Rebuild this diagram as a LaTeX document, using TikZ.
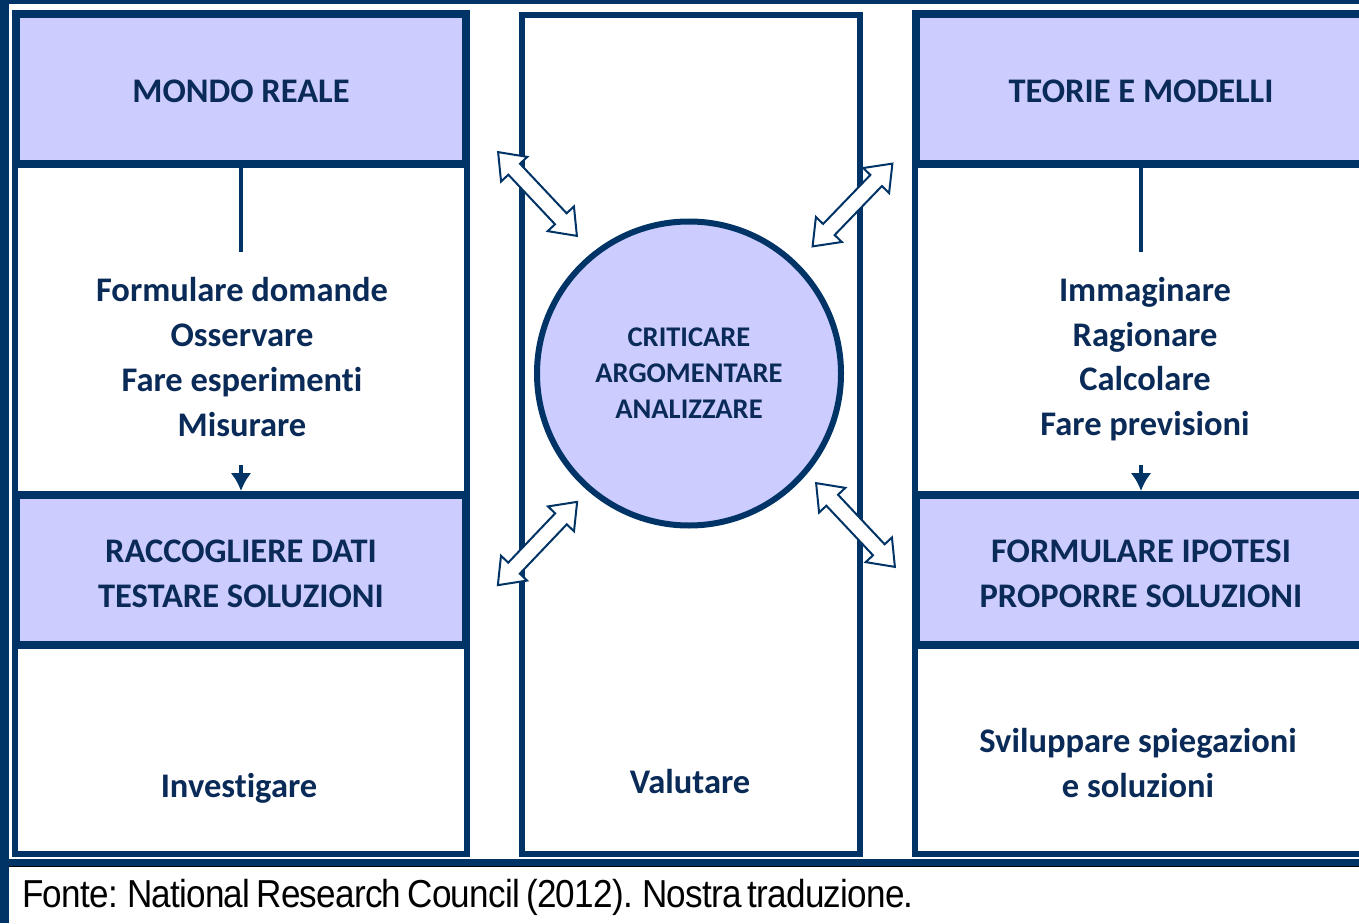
\documentclass[tikz,border=0pt]{standalone}
\usepackage{fontspec}
\setmainfont{Carlito}[Ligatures=NoCommon]
\newfontfamily\notefont[FakeStretch=0.9, LetterSpace=-2, WordSpace=0.7]{Liberation Sans}
\usetikzlibrary{positioning,arrows.meta,shapes.geometric,shapes.arrows}
\definecolor{navy}{RGB}{0,51,102}
\definecolor{inknavy}{RGB}{10,42,88}
\definecolor{lavender}{RGB}{204,204,255}
\tikzset{
  column/.style={draw=navy, line width=6pt, fill=white, minimum width=452pt, minimum height=840pt, inner sep=0pt},
  headbox/.style={draw=navy, line width=8pt, fill=lavender, minimum width=450pt, minimum height=150pt, inner sep=0pt},
  headtext/.style={align=center, inner sep=0pt, text=inknavy, font=\bfseries\fontsize{34.5}{45}\selectfont},
  listtext/.style={align=center, inner sep=0pt, text=inknavy, font=\bfseries\fontsize{34.5}{44.7}\selectfont},
  hub/.style={circle, draw=navy, line width=6pt, fill=lavender, minimum size=304pt, inner sep=0pt, align=center, text=inknavy, font=\bfseries\fontsize{28.5}{36}\selectfont},
  dblarrow/.style={double arrow, draw=navy, fill=white, line width=2pt, minimum height=115pt, minimum width=0pt, inner xsep=0pt, inner ysep=7pt, double arrow head extend=10pt, double arrow tip angle=75, sloped},
  stem/.style={navy, line width=4pt},
  stemarrow/.style={navy, line width=4pt, -{Latex[length=18pt,width=21pt]}}
}

\begin{document}
\begin{tikzpicture}[x=1pt, y=-1pt]
  \useasboundingbox (0,0) rectangle (1359,923);
  \clip (0,0) rectangle (1359,923);
  % slide frame and source strip
  \fill[navy] (0,0) rectangle (1359,4);
  \fill[navy] (0,0) rectangle (9,923);
  \fill[navy] (9,859) rectangle (1359,866);
  \draw[black, line width=1.5pt] (9,866.5) -- (1359,866.5);

  % the three columns
  \node[column] (left) at (241,434) {};
  \node[column, minimum width=338pt, minimum height=839pt] (mid) at (691,434.5) {};
  \node[column] (right) at (1141,434) {};

  % headers
  \node[headbox] (realhead) at (241,89) {};
  \node[headbox] (datahead) at (241,570) {};
  \node[headbox] (theoryhead) at (1141,89) {};
  \node[headbox] (hypohead) at (1141,570) {};
  \node[headtext] (realname) at ([yshift=-2pt]realhead.center) {MONDO REALE};
  \node[headtext] (dataname) at ([yshift=-4pt]datahead.center) {RACCOGLIERE DATI\\TESTARE SOLUZIONI};
  \node[headtext] (theoryname) at ([yshift=-2pt]theoryhead.center) {TEORIE E MODELLI};
  \node[headtext] (hyponame) at ([yshift=-4pt]hypohead.center) {FORMULARE IPOTESI\\PROPORRE SOLUZIONI};

  % activities
  \node[listtext] (realverbs) at (242,357) {Formulare domande\\Osservare\\Fare esperimenti\\Misurare};
  \node[listtext] (theoryverbs) at (1145,359) {Immaginare\\Ragionare\\Calcolare\\Fare previsioni};
  \node[listtext] (investigate) at (239,788) {Investigare};
  \node[listtext] (evaluate) at (690,782) {Valutare};
  \node[listtext] (explain) at (1138,763) {Sviluppare spiegazioni\\e soluzioni};

  % stems under the top headers
  \coordinate (realstem) at (241,252);
  \coordinate (theorystem) at (1141,252);
  \draw[stem] (realhead.south) -- (realstem);
  \draw[stem] (theoryhead.south) -- (theorystem);
  \coordinate (realtail) at (241,465);
  \coordinate (theorytail) at (1141,465);
  \draw[stemarrow] (realtail) -- (datahead.north);
  \draw[stemarrow] (theorytail) -- (hypohead.north);

  % central circle
  \node[hub] (hub) at (689,373.5) {CRITICARE\\ARGOMENTARE\\ANALIZZARE};

  % hollow double arrows
  \coordinate (tl1) at (498,152);  \coordinate (tl2) at (577,236);
  \coordinate (tr1) at (812,247);  \coordinate (tr2) at (893,163);
  \coordinate (bl1) at (498,585);  \coordinate (bl2) at (577,502);
  \coordinate (br1) at (816,483);  \coordinate (br2) at (895,567);
  \path (tl1) -- node[dblarrow] {} (tl2);
  \path (tr1) -- node[dblarrow] {} (tr2);
  \path (bl1) -- node[dblarrow] {} (bl2);
  \path (br1) -- node[dblarrow] {} (br2);

  % source line
  \node[anchor=base west, inner sep=0pt, font=\notefont\fontsize{39}{40}\selectfont] (source) at (22,907) {Fonte: National Research Council (2012). Nostra traduzione.};
\end{tikzpicture}
\end{document}
